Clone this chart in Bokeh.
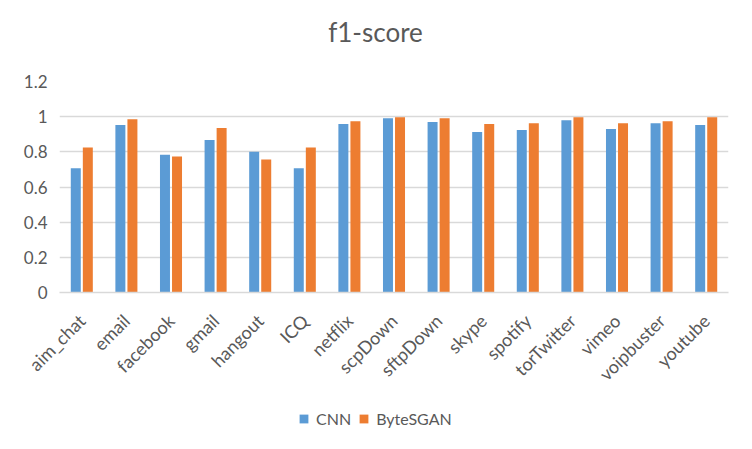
from bokeh.plotting import figure
from bokeh.models import (FactorRange, FixedTicker, NumeralTickFormatter, Legend, LegendItem,
                          ColumnDataSource, Range1d, Label)
from bokeh.layouts import column
from bokeh.transform import dodge
from bokeh.embed import file_html
from bokeh.resources import INLINE
import math

categories = ["aim_chat", "email", "facebook", "gmail", "hangout", "ICQ", "netflix",
              "scpDown", "sftpDown", "skype", "spotify", "torTwitter", "vimeo",
              "voipbuster", "youtube"]
cnn = [0.706, 0.952, 0.784, 0.868, 0.801, 0.706, 0.958,
       0.991, 0.969, 0.913, 0.924, 0.980, 0.930, 0.963, 0.952]
bytesgan = [0.824, 0.986, 0.773, 0.935, 0.756, 0.824, 0.974,
            0.997, 0.991, 0.958, 0.963, 0.997, 0.963, 0.974, 0.997]
y_ticks = [0, 0.2, 0.4, 0.6, 0.8, 1.0, 1.2]
series_names = ["CNN", "ByteSGAN"]
series_colors = ["#5B9BD5", "#ED7D31"]
chart_title = "f1-score"

FONT = "Lato"
TXT = "#595959"
GRID = "#d9d9d9"
W = 752
LEFT = 59   # the column aligns every child's frame with the chart's frame


def strip(h):
    f = figure(width=W, height=h, output_backend="svg", toolbar_location=None,
               x_range=Range1d(0, 1), y_range=Range1d(0, 1),
               x_axis_type=None, y_axis_type=None, min_border=0)
    f.outline_line_color = None
    f.grid.visible = False
    return f


# title strip
top = strip(68)
top.add_layout(Label(x=W / 2 - 1 - LEFT, y=37, x_units="screen", y_units="screen",
                     text=chart_title, text_align="center", text_baseline="middle",
                     text_font=FONT, text_font_size="26px", text_color=TXT))

# main chart
src = ColumnDataSource(dict(cat=categories, cnn=cnn, bsg=bytesgan))
chart = figure(x_range=FactorRange(*categories, range_padding=0), y_range=(0, 1.2),
               width=W, height=327, output_backend="svg", toolbar_location=None,
               min_border_left=LEFT, min_border_right=24,
               min_border_top=13, min_border_bottom=100)

chart.vbar(x=dodge("cat", -0.135, range=chart.x_range), top="cnn", width=0.224,
           source=src, color=series_colors[0], line_color=None)
chart.vbar(x=dodge("cat", 0.135, range=chart.x_range), top="bsg", width=0.224,
           source=src, color=series_colors[1], line_color=None)

chart.outline_line_color = None
chart.xgrid.grid_line_color = None
chart.ygrid.grid_line_color = GRID
chart.ygrid.grid_line_width = 1.3

chart.yaxis.ticker = FixedTicker(ticks=y_ticks)
chart.yaxis.formatter = NumeralTickFormatter(format="0.[0]")
chart.yaxis.axis_line_color = None
chart.yaxis.major_tick_line_color = None
chart.yaxis.minor_tick_line_color = None
chart.yaxis.major_tick_out = 0
chart.yaxis.major_label_standoff = 12
chart.yaxis.major_label_text_font = FONT
chart.yaxis.major_label_text_font_size = "17px"
chart.yaxis.major_label_text_color = TXT

chart.xaxis.axis_line_color = GRID
chart.xaxis.axis_line_width = 1.3
chart.xaxis.major_tick_line_color = None
chart.xaxis.major_tick_out = 0
chart.xaxis.major_label_standoff = 25
chart.xaxis.major_label_orientation = math.pi / 4
chart.xaxis.major_label_text_font = FONT
chart.xaxis.major_label_text_font_size = "18px"
chart.xaxis.major_label_text_color = TXT

# legend strip below the chart (zero-height proxy glyphs, used only for the legend keys)
leg = strip(46)
proxy_src = ColumnDataSource(dict(x=[-5], top=[0]))
proxies = [leg.vbar(x="x", top="top", width=0.1, source=proxy_src, color=c, line_color=None)
           for c in series_colors]
legend = Legend(items=[LegendItem(label=n, renderers=[r]) for n, r in zip(series_names, proxies)],
                orientation="horizontal", location=(298 - LEFT, 13),
                glyph_width=11, glyph_height=11, spacing=7, label_standoff=7,
                padding=0, margin=0, border_line_color=None,
                background_fill_alpha=0,
                label_text_font=FONT, label_text_font_size="16px",
                label_text_color=TXT)
leg.add_layout(legend, "center")

p = column(top, chart, leg, spacing=0)

open("out.html", "w").write(file_html(p, INLINE))
